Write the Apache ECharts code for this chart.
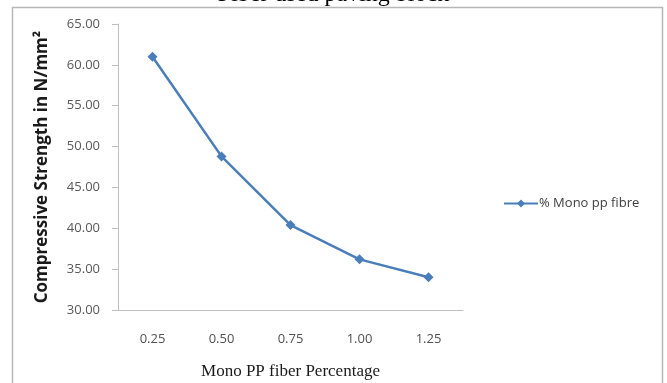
<!DOCTYPE html>
<html>
<head>
<meta charset="utf-8">
<script src="https://cdn.jsdelivr.net/npm/echarts@6/dist/echarts.min.js"></script>
<style>
  html, body { margin: 0; padding: 0; background: #fff; }
  #chart { width: 667px; height: 383px; }
</style>
</head>
<body>
<div id="chart"></div>
<script>
// data
const fiberPct = ["0.25", "0.50", "0.75", "1.00", "1.25"];
const strength = [61.0, 48.8, 40.4, 36.2, 34.0];
const seriesName = "% Mono pp fibre";

const chart = echarts.init(document.getElementById("chart"));

chart.setOption({
  animation: false,
  backgroundColor: "#fff",
  graphic: [
    {
      type: "text",
      left: "center",
      top: -17,
      style: {
        text: "Fiber used paving block",
        font: "24px 'Liberation Serif'",
        fill: "#000",
      },
    },
    {
      type: "rect",
      shape: { x: 12.5, y: 7.5, width: 650, height: 400 },
      style: { fill: "none", stroke: "#b8b8b8", lineWidth: 1.5 },
      z: -1,
    },
  ],
  grid: { left: 118, right: 204, top: 24, bottom: 73, outerBoundsMode: "none", containLabel: false },
  legend: {
    data: [seriesName],
    left: 498,
    top: 192,
    itemWidth: 34,
    itemHeight: 10,
    itemGap: 4,
    textStyle: { fontFamily: "Open Sans", fontSize: 13, color: "#404040", padding: [0, 0, 0, -4] },
  },
  xAxis: {
    type: "category",
    data: fiberPct,
    name: "Mono PP fiber Percentage",
    nameLocation: "middle",
    nameGap: 53,
    nameTextStyle: { fontFamily: "Liberation Serif", fontSize: 17, color: "#1a1a1a" },
    axisLine: { lineStyle: { color: "#bfbfbf", width: 1 } },
    axisTick: { show: false },
    axisLabel: { margin: 23, fontFamily: "Open Sans", fontSize: 13, color: "#505050" },
  },
  yAxis: {
    type: "value",
    min: 30,
    max: 65,
    interval: 5,
    name: "Compressive Strength in N/mm²",
    nameLocation: "middle",
    nameGap: 67,
    nameTextStyle: { fontFamily: "Open Sans", fontWeight: "bold", fontSize: 17, color: "#1a1a1a" },
    axisLine: { show: true, lineStyle: { color: "#bfbfbf", width: 1 } },
    axisTick: { show: true, length: 6, lineStyle: { color: "#bfbfbf" } },
    splitLine: { show: false },
    axisLabel: {
      margin: 18,
      fontFamily: "Open Sans",
      fontSize: 13,
      color: "#595959",
      formatter: (v) => v.toFixed(2),
    },
  },
  series: [
    {
      name: seriesName,
      type: "line",
      data: strength,
      symbol: "diamond",
      symbolSize: 10,
      lineStyle: { color: "#4a7ebb", width: 2.5 },
      itemStyle: { color: "#4a7ebb" },
    },
  ],
});
</script>
</body>
</html>
